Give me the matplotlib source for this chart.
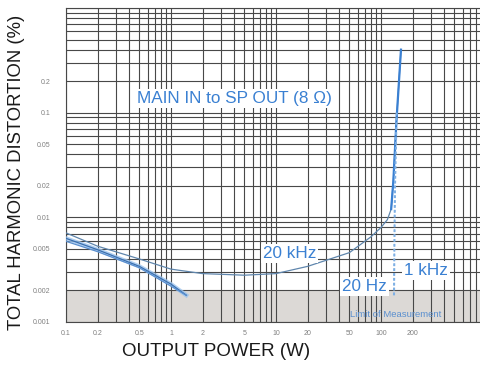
import matplotlib
matplotlib.use("Agg")
import matplotlib.pyplot as plt
from matplotlib.ticker import FixedLocator, LogLocator, NullFormatter

plt.rcParams['font.family'] = ['Liberation Sans', 'DejaVu Sans']

# ---- data ----
x_ticks = [0.1, 0.2, 0.5, 1, 2, 5, 10, 20, 50, 100, 200]
x_ticklabels = ["0.1", "0.2", "0.5", "1", "2", "5", "10", "20", "50", "100", "200"]
y_ticks = [0.001, 0.002, 0.005, 0.01, 0.02, 0.05, 0.1, 0.2]
y_ticklabels = ["0.001", "0.002", "0.005", "0.01", "0.02", "0.05", "0.1", "0.2"]

p_20k = [0.1, 0.2, 0.5, 1, 2, 5, 10, 20, 50, 80, 100, 115, 125, 131, 140, 155]
thd_20k = [0.0071, 0.0053, 0.0040, 0.0032, 0.0029, 0.0028, 0.0029, 0.0034,
           0.0046, 0.0065, 0.0080, 0.0095, 0.012, 0.022, 0.08, 0.4]

p_1k_low = [0.1, 0.2, 0.5, 1.0, 1.4]
thd_1k_low = [0.0063, 0.0049, 0.0034, 0.0023, 0.0018]
p_20_low = [0.1, 0.2, 0.5, 1.0, 1.4]
thd_20_low = [0.0059, 0.0047, 0.0033, 0.0022, 0.0018]

p_1k_high = [134, 135, 137, 142]
thd_1k_high = [0.0018, 0.005, 0.02, 0.1]
p_20_high = [132, 133, 135, 140]
thd_20_high = [0.0018, 0.005, 0.02, 0.1]

limit_low, limit_high = 0.001, 0.002

# ---- figure ----
W, H = 481, 365
fig = plt.figure(figsize=(W / 100, H / 100), dpi=100)
left, right, bottom, top = 66, 481, 322, 8
ax = fig.add_axes([left / W, 1 - bottom / H, (right - left) / W, (bottom - top) / H])
ax.set_xscale('log')
ax.set_yscale('log')
ax.set_xlim(0.1, 0.1 * 10 ** ((right - left) / 105))
ax.set_ylim(0.001, 1)

grid_c = '#484848'
ax.axhspan(limit_low, limit_high, color='#dcd9d6', zorder=0, lw=0)
ax.xaxis.set_minor_locator(LogLocator(base=10, subs=range(1, 10), numticks=20))
ax.yaxis.set_minor_locator(LogLocator(base=10, subs=range(1, 10), numticks=20))
ax.xaxis.set_minor_formatter(NullFormatter())
ax.yaxis.set_minor_formatter(NullFormatter())
ax.grid(True, which='both', color=grid_c, lw=0.8, zorder=1)
ax.set_axisbelow(True)
ax.xaxis.set_major_locator(FixedLocator(x_ticks))
ax.yaxis.set_major_locator(FixedLocator(y_ticks))
ax.set_xticklabels(x_ticklabels)
ax.set_yticklabels(y_ticklabels)
ax.tick_params(which='both', length=0, labelsize=5, colors='#808080')
ax.tick_params(axis='x', pad=6)
ax.tick_params(axis='y', pad=11)
for s in ['left', 'top', 'bottom']:
    ax.spines[s].set_color(grid_c)
    ax.spines[s].set_linewidth(0.8)
ax.spines['right'].set_visible(False)

blue = '#3a80d2'
# 20 kHz curve
ax.plot(p_20k, thd_20k, color='#5f86ad', lw=0.9, zorder=3)
ax.plot(p_20k[-4:], thd_20k[-4:], color=blue, lw=1.6, zorder=4)
# low power segments (1 kHz and 20 Hz)
ax.plot(p_1k_low, thd_1k_low, color='#9cc4ee', lw=3.0, zorder=3, alpha=0.8)
ax.plot(p_1k_low, thd_1k_low, color='#3a6fae', lw=0.9, zorder=4)
ax.plot(p_20_low, thd_20_low, color='#5a8fcf', lw=0.9, zorder=4)
# high power segments
ax.plot(p_1k_high, thd_1k_high, color='#7fb0e4', lw=1.0, ls=(0, (2, 1.5)), zorder=4)
ax.plot(p_20_high, thd_20_high, color='#7fb0e4', lw=1.0, ls=(0, (2, 1.5)), zorder=4)

# texts
box = dict(facecolor='white', edgecolor='none', pad=1.5)
ax.text(0.47, 0.136, "MAIN IN to SP OUT (8 Ω)", color=blue, fontsize=12.3,
        va='center', ha='left', zorder=5, bbox=box)
ax.text(7.5, 0.00454, "20 kHz", color=blue, fontsize=12.3, va='center', ha='left',
        zorder=5, bbox=box)
ax.text(42.5, 0.0022, "20 Hz", color=blue, fontsize=12.3, va='center', ha='left',
        zorder=5, bbox=box)
ax.text(165, 0.00313, "1 kHz", color=blue, fontsize=12.3, va='center', ha='left',
        zorder=5, bbox=box)
ax.text(50.8, 0.00119, "Limit of Measurement", color='#5a8fcf', fontsize=6.8,
        va='center', ha='left', zorder=5)

fig.text(17 / W, 1 - 172 / H, "TOTAL HARMONIC DISTORTION (%)", rotation=90,
         fontsize=13.3, color='#1a1a1a', ha='center', va='center')
fig.text(216 / W, 1 - 352 / H, "OUTPUT POWER (W)", fontsize=13.5, color='#1a1a1a',
         ha='center', va='center')

fig.savefig("out.png", dpi=100)
